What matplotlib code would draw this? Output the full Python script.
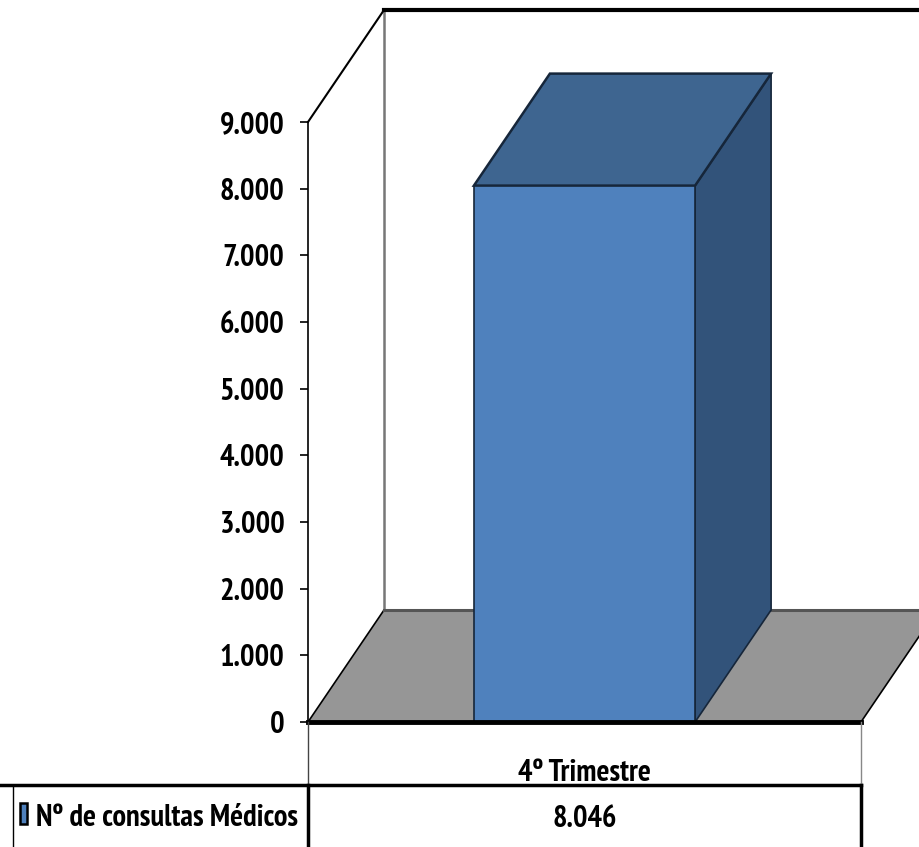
import matplotlib.pyplot as plt
from matplotlib.patches import Polygon, Rectangle
from matplotlib.lines import Line2D

# data
categories = ["4º Trimestre"]
series_name = "Nº de consultas Médicos"
values = [8046]
y_ticks = [0, 1000, 2000, 3000, 4000, 5000, 6000, 7000, 8000, 9000]

FONT = ["PT Sans Narrow", "DejaVu Sans"]
FS = 22
FRONT = "#4F81BD"
TOP = "#3E6590"
SIDE = "#32537A"
FLOOR = "#969696"

W, H = 920, 847
fig = plt.figure(figsize=(W / 100, H / 100), dpi=100)

# plot area (front plane) in pixels
px_l, px_r, px_b, px_t = 308, 861, 722, 122
ax = fig.add_axes([px_l / W, (H - px_b) / H, (px_r - px_l) / W, (px_b - px_t) / H])
n = len(categories)
ymax = 9000
ax.set_xlim(0, n)
ax.set_ylim(0, ymax)

# 3d depth as fractions of the plot area
DX = 76 / (px_r - px_l) * n
DY = 112 / (px_b - px_t) * ymax

# back wall
ax.add_patch(Polygon([(DX, DY), (DX, ymax + DY), (n + DX, ymax + DY), (n + DX, DY)],
                     closed=True, facecolor="white", edgecolor="none", clip_on=False, zorder=1))
ax.add_line(Line2D([DX, DX], [DY, ymax + DY], color="#777777", lw=1.8, clip_on=False, zorder=2))
ax.add_line(Line2D([DX, n + DX], [ymax + DY, ymax + DY], color="black", lw=3,
                   clip_on=False, zorder=2))
ax.add_line(Line2D([0, DX], [ymax, ymax + DY], color="black", lw=1.5, clip_on=False, zorder=2))

# floor
ax.add_patch(Polygon([(0, 0), (n, 0), (n + DX, DY), (DX, DY)], closed=True, facecolor=FLOOR,
                     edgecolor="black", lw=1.2, clip_on=False, zorder=2))
ax.add_line(Line2D([DX, n + DX], [DY, DY], color="#555555", lw=2.2, clip_on=False, zorder=3))

# bars
bw = 0.4
for i, v in enumerate(values):
    x0 = i + 0.5 - bw / 2
    x1 = i + 0.5 + bw / 2
    ec = "#16263a"
    ax.add_patch(Polygon([(x1, 0), (x1 + DX, DY), (x1 + DX, v + DY), (x1, v)], closed=True,
                         facecolor=SIDE, edgecolor=ec, lw=1.2, clip_on=False, zorder=4))
    ax.add_patch(Polygon([(x0, v), (x1, v), (x1 + DX, v + DY), (x0 + DX, v + DY)], closed=True,
                         facecolor=TOP, edgecolor=ec, lw=1.8, clip_on=False, zorder=5))
    ax.add_patch(Rectangle((x0, 0), bw, v, facecolor=FRONT, edgecolor=ec, lw=1.2,
                           clip_on=False, zorder=6))

# axes styling
ax.set_facecolor("none")
for s in ["top", "right"]:
    ax.spines[s].set_visible(False)
ax.spines["left"].set_linewidth(1.2)
ax.spines["bottom"].set_linewidth(3.5)
ax.spines["left"].set_zorder(7)
ax.spines["bottom"].set_zorder(7)
ax.set_xticks([])
ax.set_yticks(y_ticks)
ax.set_yticklabels([f"{t:,}".replace(",", ".") for t in y_ticks], family=FONT,
                   fontweight="bold", fontsize=FS)
ax.tick_params(axis="y", direction="out", length=6, width=1.2, pad=11)


# data table
def fy(p):
    return (H - p) / H


row_y = 785
fig.add_artist(Line2D([0, px_r / W], [fy(row_y), fy(row_y)], color="black", lw=2.5))
fig.add_artist(Line2D([px_l / W, px_l / W], [fy(px_b), fy(row_y)], color="#444444", lw=1))
fig.add_artist(Line2D([px_r / W, px_r / W], [fy(px_b), fy(row_y)], color="#888888", lw=1))
fig.add_artist(Line2D([px_l / W, px_l / W], [fy(row_y), 0], color="black", lw=2.5))
fig.add_artist(Line2D([px_r / W, px_r / W], [fy(row_y), 0], color="black", lw=2.5))
fig.add_artist(Line2D([13 / W, 13 / W], [fy(row_y), 0], color="black", lw=1))

col_w = (px_r - px_l) / n
for i, (c, v) in enumerate(zip(categories, values)):
    cx = (px_l + col_w * (i + 0.5)) / W
    fig.text(cx, fy(773), c, ha="center", va="center", family=FONT, fontweight="bold",
             fontsize=FS)
    fig.text(cx, fy(819), f"{v:,}".replace(",", "."), ha="center", va="center", family=FONT,
             fontweight="bold", fontsize=FS)

fig.add_artist(Rectangle((20 / W, fy(824)), 7 / W, 21 / H, transform=fig.transFigure,
                         facecolor=FRONT, edgecolor="black", lw=1.8))
fig.text(36 / W, fy(818), series_name, ha="left", va="center", family=FONT,
         fontweight="bold", fontsize=FS)

fig.savefig("out.png", dpi=100)
